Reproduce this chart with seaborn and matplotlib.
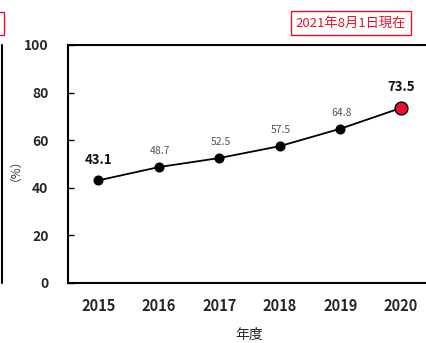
import seaborn as sns
import matplotlib.pyplot as plt
import matplotlib.patches as mpatches
from matplotlib.lines import Line2D
import pandas as pd

# data
years = ["2015", "2016", "2017", "2018", "2019", "2020"]
rates = [43.1, 48.7, 52.5, 57.5, 64.8, 73.5]
y_ticks = [0, 20, 40, 60, 80, 100]

sns.set_style("white")
plt.rcParams['font.family'] = ['Noto Sans CJK JP', 'DejaVu Sans']

df = pd.DataFrame({"pos": range(len(years)), "rate": rates})

fig = plt.figure(figsize=(4.26, 3.43), dpi=100)
# the right edge of the axes runs off the picture, as in the reference
ax = fig.add_axes([68 / 426, 1 - 283 / 343, 363 / 426, 238 / 343])

sns.lineplot(data=df, x="pos", y="rate", ax=ax, color="black", linewidth=1.3,
             marker="o", markersize=6.5, markeredgecolor="black")
# highlight the last year
ax.scatter(df["pos"].iloc[-1], df["rate"].iloc[-1], s=85, color="#e8102a",
           edgecolor="black", linewidth=1.0, zorder=5)

# value labels
for i, v in enumerate(rates):
    if i == 0 or i == len(rates) - 1:
        ax.annotate(f"{v}", (i, v), xytext=(0, 10), textcoords="offset points",
                    ha="center", va="bottom", fontsize=9.5, fontweight="bold", color="#111111")
    else:
        ax.annotate(f"{v}", (i, v), xytext=(1, 8), textcoords="offset points",
                    ha="center", va="bottom", fontsize=7.5, color="#555555")

ax.set_xlim(-0.5, len(years) - 0.5)
ax.set_ylim(0, 100)
ax.set_yticks(y_ticks)
ax.set_yticklabels([str(t) for t in y_ticks], fontsize=10, fontweight="bold")
ax.set_xticks(range(len(years)))
ax.set_xticklabels(years, fontsize=10.5, fontweight="bold")
ax.set_xticks([i + 0.5 for i in range(len(years) - 1)], minor=True)
ax.tick_params(axis="x", which="major", length=0, pad=11)
ax.tick_params(axis="x", which="minor", direction="in", length=4, width=1, color="black")
ax.tick_params(axis="y", direction="in", length=4, width=1, color="black", pad=14, left=True)

for s in ax.spines.values():
    s.set_color("black")
    s.set_linewidth(1.5)

ax.set_xlabel("年度", fontsize=10, labelpad=10)
ax.set_ylabel("（%）", fontsize=8.5, labelpad=6, color="#333333")

# date box at top right
fig.text(351 / 426, 1 - 23 / 343, "2021年8月1日現在", ha="center", va="center",
         fontsize=9.5, color="#e8102a",
         bbox=dict(boxstyle="square,pad=0.4", facecolor="white", edgecolor="#e8102a", linewidth=1))

# bits of the neighbouring chart at the left edge
fig.patches.append(mpatches.Rectangle((-0.02, 1 - 35 / 343), 0.03, 23 / 343,
                                      transform=fig.transFigure, fill=False,
                                      edgecolor="#e8102a", linewidth=1))
fig.lines.append(Line2D([2 / 426, 2 / 426], [1 - 283 / 343, 1 - 45 / 343],
                        transform=fig.transFigure, color="black", linewidth=1.5))

plt.savefig("out.png", dpi=100)
